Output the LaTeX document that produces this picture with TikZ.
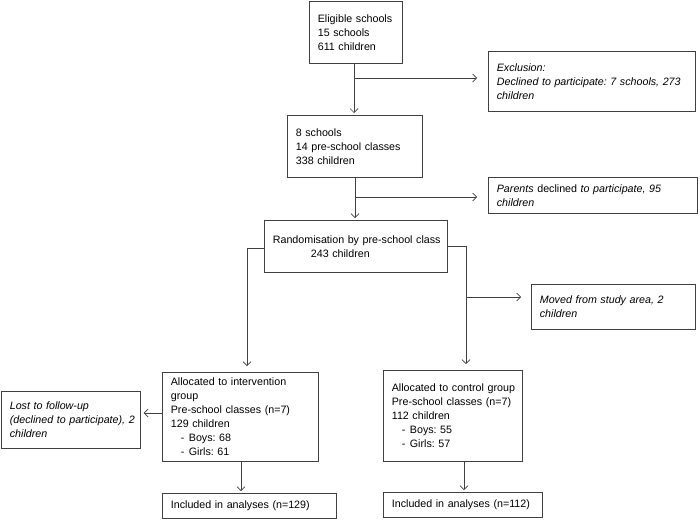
\documentclass[tikz,border=0pt]{standalone}
\usepackage{fontspec}
\setmainfont{Liberation Sans}
\usetikzlibrary{arrows.meta,calc}
\frenchspacing
\begin{document}
\begin{tikzpicture}[x=1pt,y=-1pt,
  box/.style={draw=black!75, line width=0.7pt, inner xsep=8.5pt, inner ysep=0pt,
    align=left, anchor=north west, font=\fontsize{10.7}{14}\selectfont},
  itbox/.style={box, font=\fontsize{10.7}{14}\selectfont\itshape},
  arr/.style={draw=black!75, line width=0.7pt, -{Straight Barb[length=4pt,width=8pt]}},
  ln/.style={draw=black!75, line width=0.7pt}]
\fill[white] (0,0) rectangle (700,520);
\useasboundingbox (0,0) rectangle (700,520);

\node[box, text width=76pt, minimum height=62pt] (elig) at (309,1)
  {\mbox{Eligible schools}\\\mbox{15 schools}\\\mbox{611 children}};
\node[itbox, text width=190pt, minimum height=60pt] (excl) at (488,51)
  {\mbox{Exclusion:}\\\mbox{Declined to participate: 7 schools, 273}\\children};
\node[box, text width=118pt, minimum height=62pt] (s8) at (287,115)
  {\mbox{8 schools}\\\mbox{14 pre-school classes}\\\mbox{338 children}};
\node[box, text width=192pt, minimum height=36pt] (par) at (488,177)
  {\mbox{\textit{Parents} declined \textit{to participate, 95}}\\\textit{children}};
\node[box, text width=166pt, minimum height=52pt] (rand) at (264,220)
  {\mbox{Randomisation by pre-school class}\\\mbox{\hspace*{38pt}243 children}};
\node[itbox, text width=147pt, minimum height=45pt] (moved) at (531,284)
  {\mbox{Moved from study area, 2}\\children};
\node[box, text width=139pt, minimum height=89pt] (int) at (162,372)
  {\mbox{Allocated to intervention}\\group\\\mbox{Pre-school classes (n=7)}\\\mbox{129 children}\\
   \mbox{\hspace*{10pt}-\hspace*{4.5pt}Boys: 68}\\\mbox{\hspace*{10pt}-\hspace*{4.5pt}Girls: 61}};
\node[itbox, text width=122pt, minimum height=57pt] (lost) at (1,391)
  {\mbox{Lost to follow-up}\\\mbox{(declined to participate), 2}\\children};
\node[box, text width=157pt, minimum height=25pt] (inc1) at (162,493)
  {\mbox{Included in analyses (n=129)}};
\node[box, text width=122pt, minimum height=91pt] (ctrl) at (383,370)
  {\mbox{Allocated to control group}\\\mbox{Pre-school classes (n=7)}\\\mbox{112 children}\\
   \mbox{\hspace*{10pt}-\hspace*{4.5pt}Boys: 55}\\\mbox{\hspace*{10pt}-\hspace*{4.5pt}Girls: 57}};
\node[box, text width=142pt, minimum height=25pt] (inc2) at (383,492)
  {\mbox{Included in analyses (n=112)}};

\coordinate (b1) at (354,78);
\coordinate (b2) at (355,197);
\coordinate (cl) at (247,248);
\coordinate (cr) at (466,246);
\coordinate (b3) at (466,297);
\coordinate (b4) at (162,413);
\coordinate (b5) at (241,461);
\coordinate (b6) at (464,461);

\draw[arr, shorten >=2pt] (b1 |- elig.south) -- (b1 |- s8.north);
\draw[arr, shorten >=11pt] (b1) -- (b1 -| excl.west);
\draw[arr, shorten >=2pt] (b2 |- s8.south) -- (b2 |- rand.north);
\draw[arr, shorten >=11pt] (b2) -- (b2 -| par.west);
\draw[arr, shorten >=6pt] (rand.west |- cl) -- (cl) -- (cl |- int.north);
\draw[arr, shorten >=6pt] (rand.east |- cr) -- (cr) -- (cr |- ctrl.north);
\draw[arr, shorten >=10pt] (b3) -- (b3 -| moved.west);
\draw[arr, shorten >=3pt] (int.west |- b4) -- (b4 -| lost.east);
\draw[arr, shorten >=2pt] (b5 |- int.south) -- (b5 |- inc1.north);
\draw[arr, shorten >=2pt] (b6 |- ctrl.south) -- (b6 |- inc2.north);
\end{tikzpicture}
\end{document}
